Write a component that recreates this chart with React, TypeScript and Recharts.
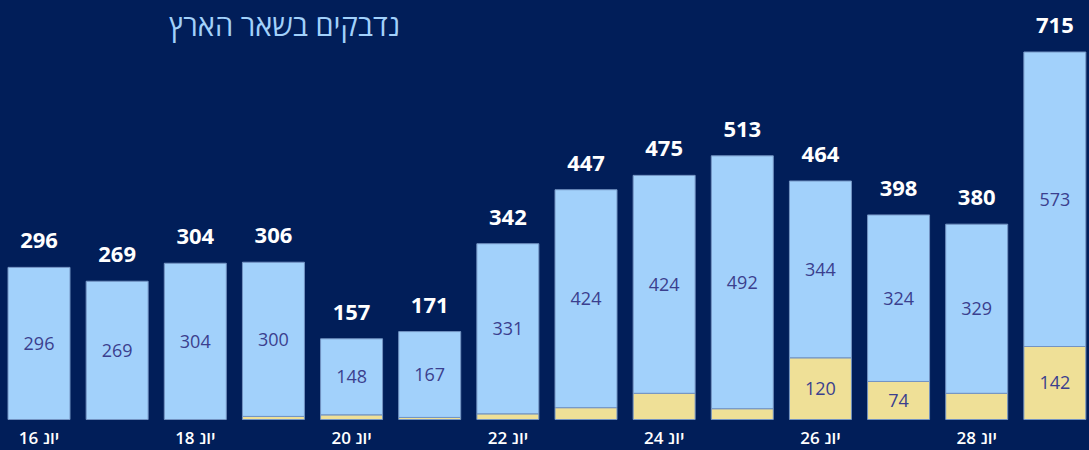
import { BarChart, Bar, XAxis, YAxis, LabelList } from 'recharts';

const dates = ['יונ 16', 'יונ 17', 'יונ 18', 'יונ 19', 'יונ 20', 'יונ 21', 'יונ 22', 'יונ 23', 'יונ 24', 'יונ 25', 'יונ 26', 'יונ 27', 'יונ 28', 'יונ 29'];
const totals = [296, 269, 304, 306, 157, 171, 342, 447, 475, 513, 464, 398, 380, 715];
const local = [296, 269, 304, 300, 148, 167, 331, 424, 424, 492, 344, 324, 329, 573];
const abroad = [0, 0, 0, 6, 9, 4, 11, 23, 51, 21, 120, 74, 51, 142];

const BG = '#011e59';
const BLUE = '#a2d1fb';
const YELLOW = '#efe097';
const EDGE = '#7393c2';
const INNER_TEXT = '#3b3f8e';
const FONT = '"Open Sans", "Noto Sans", sans-serif';

const data = dates.map((d, i) => ({
    date: d,
    total: totals[i],
    local: local[i],
    abroad: abroad[i],
}));

// Power BI style: hide inner labels that don't fit the segment
const fitLabel = (v: any) => (Number(v) >= 60 ? v : '');

const DateTick = (props: any) => {
    const { x, y, payload } = props;
    return (
        <text
            x={x}
            y={y + 16}
            textAnchor="middle"
            direction="rtl"
            fill="#ffffff"
            fontSize={17}
            fontWeight={600}
            fontFamily={FONT}
        >
            {payload.value}
        </text>
    );
};

export default function App() {
    return (
        <div style={{ position: 'absolute', left: 0, top: 0, width: 1089, height: 450, overflow: 'hidden', background: BG }}>
            <div
                style={{
                    position: 'absolute', left: 0, top: 7, width: 400, textAlign: 'right',
                    color: BLUE, fontFamily: FONT, fontSize: 29, lineHeight: '36px', direction: 'rtl',
                }}
            >
                נדבקים בשאר הארץ
            </div>
            <BarChart
                width={1094}
                height={450}
                data={data}
                margin={{ top: 52, right: 0, left: 0, bottom: 0 }}
                style={{ position: 'absolute', left: 0, top: 0 }}
            >
                <XAxis
                    dataKey="date"
                    axisLine={false}
                    tickLine={false}
                    interval={1}
                    height={30.5}
                    tick={<DateTick />}
                />
                <YAxis hide domain={[0, 715]} />
                <Bar dataKey="abroad" stackId="a" fill={YELLOW} stroke={EDGE} strokeWidth={1} barSize={62} isAnimationActive={false}>
                    <LabelList dataKey="abroad" position="center" formatter={fitLabel} fill={INNER_TEXT} fontSize={18} fontFamily={FONT} />
                </Bar>
                <Bar dataKey="local" stackId="a" fill={BLUE} stroke={EDGE} strokeWidth={1} barSize={62} isAnimationActive={false}>
                    <LabelList dataKey="local" position="center" fill={INNER_TEXT} fontSize={18} fontFamily={FONT} />
                    <LabelList dataKey="total" position="top" offset={19} fill="#ffffff" fontSize={22} fontWeight={700} fontFamily={FONT} />
                </Bar>
            </BarChart>
        </div>
    );
}
